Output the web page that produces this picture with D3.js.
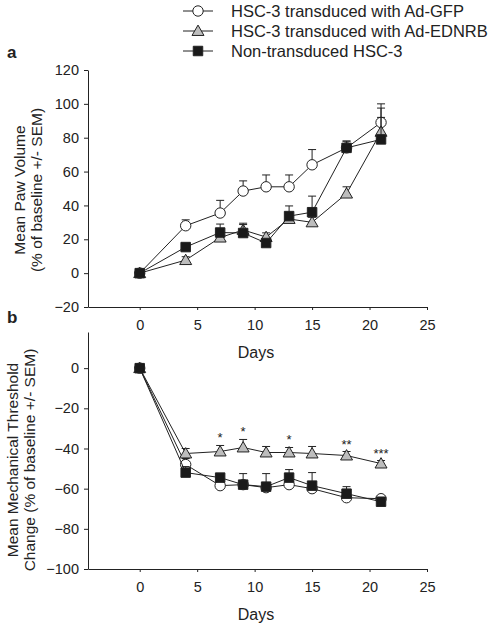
<!DOCTYPE html>
<html><head><meta charset="utf-8">
<script src="https://cdn.jsdelivr.net/npm/d3@7"></script>
<style>body{margin:0;background:#fff}svg{display:block;font-family:"Liberation Sans",Arial,sans-serif}</style>
</head><body><svg id="c" width="497" height="628"></svg>
<script>
const days = [0, 4, 7, 9, 11, 13, 15, 18, 21];
const seriesNames = ["HSC-3 transduced with Ad-GFP", "HSC-3 transduced with Ad-EDNRB", "Non-transduced HSC-3"];
// Panel a: Mean paw volume
const pawGFP   = [0, 28, 35.5, 48.5, 51, 51, 64, 74, 89];
const pawGFPErr = [0, 3.5, 7.5, 6, 7, 7, 9, 4, 11];
const pawEDNRB = [0, 7.7, 21, 25.5, 21.3, 32, 30, 47, 83.5];
const pawEDNRBErr = [0, 2, 3, 4, 2.5, 3, 3, 4, 14];
const pawNon   = [0, 15.4, 24, 23.7, 17.8, 33.7, 36, 74, 79];
const pawNonErr = [0, 2, 5, 5, 2, 6, 9.5, 4, 13];
// Panel b: Mean mechanical threshold change
const mtGFP   = [0, -48, -58.5, -58, -59.5, -58, -60, -64.5, -65];
const mtGFPErr = [0, 3, 0, 1, 1, 0, 0, 0, 1.5];
const mtEDNRB = [0, -42.5, -41.5, -39.5, -42, -42, -42.5, -43.5, -47.5];
const mtEDNRBErr = [0, 2.5, 3, 4, 3, 2.5, 3.5, 2, 1.5];
const mtNon   = [0, -52, -54.5, -58, -59, -54.5, -58.5, -62.5, -66.5];
const mtNonErr = [0, 3, 0, 5.5, 6.5, 4, 6.5, 3.5, 1];
const sigDays = [7, 9, 13, 18, 21];
const sigLabels = ["*", "*", "*", "**", "***"];
const xTicks = [0, 5, 10, 15, 20, 25];
const yTicksA = [-20, 0, 20, 40, 60, 80, 100, 120];
const yTicksB = [-100, -80, -60, -40, -20, 0];

const svg = d3.select("#c");
const FS = 14.5;
const markerStyle = [
  {shape: d3.symbolCircle, fill: "#fff", size: 85},
  {shape: d3.symbolTriangle, fill: "#bdbdbd", size: 62},
  {shape: d3.symbolSquare, fill: "#1a1a1a", size: 90}
];

const x = d3.scaleLinear().domain([-4.5, 25]).range([88, 427]);

function panel(opts) {
  const y = d3.scaleLinear().domain(opts.yDomain).range(opts.yRange);
  const g = svg.append("g");
  const yAxis = g.append("g").attr("transform", "translate(88,0)")
    .call(d3.axisLeft(y).tickValues(opts.yTicks).tickSize(4).tickPadding(5).tickSizeOuter(0));
  const xAxis = g.append("g").attr("transform", `translate(0,${opts.yRange[0]})`)
    .call(d3.axisBottom(x).tickValues(xTicks).tickSize(3).tickPadding(10).tickSizeOuter(0));
  [yAxis, xAxis].forEach(a => {
    a.selectAll("text").attr("font-size", FS).attr("fill", "#222").attr("font-family", "Liberation Sans, Arial, sans-serif");
    a.selectAll("path,line").attr("stroke", "#222");
  });
  g.append("text").attr("x", 256).attr("y", opts.daysY).attr("text-anchor", "middle")
    .attr("font-size", 16).attr("fill", "#222").text("Days");
  opts.yTitle.forEach((t, i) => {
    g.append("text").attr("transform", `translate(${opts.yTitleX + i * 17},${opts.yTitleCenter}) rotate(-90)`)
      .attr("text-anchor", "middle").attr("font-size", 15.5).attr("fill", "#222").text(t);
  });
  opts.series.forEach((s, si) => {
    const sg = g.append("g");
    const pts = days.map((d, i) => ({d, v: s.v[i], e: s.e[i]}));
    pts.filter(p => p.e > 0).forEach(p => {
      const top = p.v + p.e;
      sg.append("line").attr("x1", x(p.d)).attr("x2", x(p.d)).attr("y1", y(p.v)).attr("y2", y(top)).attr("stroke", "#222").attr("stroke-width", 1);
      sg.append("line").attr("x1", x(p.d) - 4).attr("x2", x(p.d) + 4).attr("y1", y(top)).attr("y2", y(top)).attr("stroke", "#222").attr("stroke-width", 1);
    });
    sg.append("path").datum(pts).attr("fill", "none").attr("stroke", "#222").attr("stroke-width", 1)
      .attr("d", d3.line().x(p => x(p.d)).y(p => y(p.v)));
    const m = markerStyle[si];
    sg.selectAll("path.m").data(pts).join("path").attr("class", "m")
      .attr("transform", p => `translate(${x(p.d)},${y(p.v) + (si === 1 ? 1 : 0)})`)
      .attr("d", d3.symbol().type(m.shape).size(m.size))
      .attr("fill", m.fill).attr("stroke", "#222").attr("stroke-width", 1);
  });
  return y;
}

panel({
  yDomain: [-20, 120], yRange: [307, 70], yTicks: yTicksA, daysY: 358,
  yTitle: ["Mean Paw Volume", "(% of baseline +/- SEM)"], yTitleX: 25, yTitleCenter: 190,
  series: [{v: pawGFP, e: pawGFPErr}, {v: pawEDNRB, e: pawEDNRBErr}, {v: pawNon, e: pawNonErr}]
});
const yb = panel({
  yDomain: [-100, 18], yRange: [569, 332], yTicks: yTicksB, daysY: 620,
  yTitle: ["Mean Mechanical Threshold", "Change (% of baseline +/- SEM)"], yTitleX: 18, yTitleCenter: 460,
  series: [{v: mtGFP, e: mtGFPErr}, {v: mtEDNRB, e: mtEDNRBErr}, {v: mtNon, e: mtNonErr}]
});
sigDays.forEach((d, i) => {
  const idx = days.indexOf(d);
  svg.append("text").attr("x", x(d)).attr("y", yb(mtEDNRB[idx] + mtEDNRBErr[idx]) - 3)
    .attr("text-anchor", "middle").attr("font-size", 13).attr("fill", "#222").text(sigLabels[i]);
});
svg.append("text").attr("x", 7).attr("y", 58).attr("font-size", 17).attr("font-weight", "bold").attr("fill", "#222").text("a");
svg.append("text").attr("x", 7).attr("y", 323).attr("font-size", 17).attr("font-weight", "bold").attr("fill", "#222").text("b");
seriesNames.forEach((n, i) => {
  const yy = 11 + i * 20;
  const lg = svg.append("g");
  lg.append("line").attr("x1", 183).attr("x2", 213).attr("y1", yy).attr("y2", yy).attr("stroke", "#222");
  const m = markerStyle[i];
  lg.append("path").attr("transform", `translate(198,${yy + (i === 1 ? 1 : 0)})`)
    .attr("d", d3.symbol().type(m.shape).size(m.size)).attr("fill", m.fill).attr("stroke", "#222");
  lg.append("text").attr("x", 231).attr("y", yy + 6).attr("font-size", 16.5).attr("fill", "#222").text(n);
});
</script></body></html>
